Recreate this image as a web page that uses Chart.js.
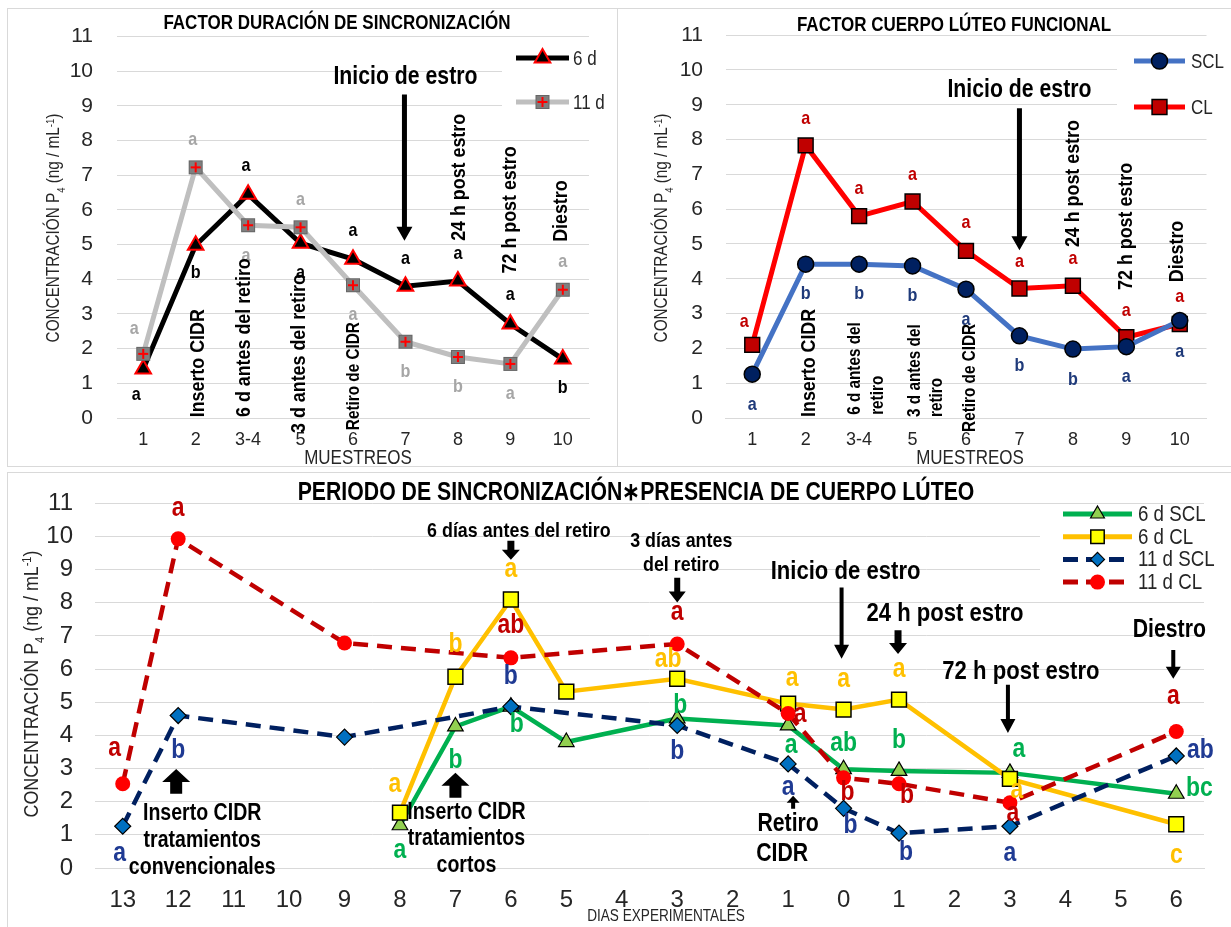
<!DOCTYPE html>
<html>
<head>
<meta charset="utf-8">
<script src="https://cdn.jsdelivr.net/npm/chart.js@4.4.1/dist/chart.umd.min.js"></script>
<style>
  body { margin: 0; background: #fff; }
  #hoja { position: relative; width: 1231px; height: 927px; overflow: hidden; }
  .marco { position: absolute; border: 1px solid #d9d9d9; }
  canvas { position: absolute; }
</style>
</head>
<body>
<div id="hoja">
  <div class="marco" style="left:7px;top:8px;width:609px;height:457px"></div>
  <div class="marco" style="left:617px;top:8px;width:640px;height:457px"></div>
  <div class="marco" style="left:7px;top:472px;width:1260px;height:480px"></div>
  <canvas id="g1" width="617" height="467" style="left:0;top:0"></canvas>
  <canvas id="g2" width="614" height="467" style="left:617px;top:0"></canvas>
  <canvas id="g3" width="1231" height="460" style="left:0;top:467px"></canvas>
</div>
<script>
// ---- datos graficas superiores ----
const muestreos = ['1', '2', '3-4', '5', '6', '7', '8', '9', '10'];

const p4_6d  = [1.41, 4.98, 6.45, 5.04, 4.58, 3.80, 3.95, 2.71, 1.70];
const p4_11d = [1.85, 7.23, 5.56, 5.50, 3.83, 2.20, 1.76, 1.56, 3.70];
const letras6d   = ['a', 'b', 'a', 'a', 'a', 'a', 'a', 'a', 'b'];
const letrasY6d  = [0.66, 4.20, 7.28, 4.18, 5.39, 4.60, 4.73, 3.54, 0.87];
const letras11d  = ['a', 'a', 'a', 'a', 'a', 'b', 'b', 'a', 'a'];
const letrasY11d = [2.56, 8.03, 4.67, 6.28, 2.99, 1.34, 0.90, 0.70, 4.50];

const p4_SCL = [1.26, 4.42, 4.42, 4.37, 3.70, 2.36, 1.98, 2.05, 2.80];
const p4_CL  = [2.10, 7.83, 5.80, 6.22, 4.80, 3.72, 3.80, 2.32, 2.70];
const letrasSCL  = ['a', 'b', 'b', 'b', 'a', 'b', 'b', 'a', 'a'];
const letrasYSCL = [0.37, 3.57, 3.57, 3.50, 2.82, 1.50, 1.10, 1.19, 1.90];
const letrasCL   = ['a', 'a', 'a', 'a', 'a', 'a', 'a', 'a', 'a'];
const letrasYCL  = [2.77, 8.60, 6.58, 7.00, 5.60, 4.50, 4.57, 3.08, 3.49];

// ---- datos grafica inferior ----
const dias = ['13', '12', '11', '10', '9', '8', '7', '6', '5', '4', '3', '2', '1', '0', '1', '2', '3', '4', '5', '6'];

const p4_6dSCL  = [null, null, null, null, null, 1.29, 4.27, 4.87, 3.80, null, 4.51, null, 4.30, 2.98, 2.93, null, 2.87, null, null, 2.24];
const p4_6dCL   = [null, null, null, null, null, 1.67, 5.77, 8.10, 5.32, null, 5.71, null, 4.96, 4.78, 5.08, null, 2.69, null, null, 1.32];
const p4_11dSCL = [1.26, 4.60, null, null, 3.95, null, null, 4.87, null, null, 4.30, null, 3.14, 1.80, 1.05, null, 1.26, null, null, 3.38];
const p4_11dCL  = [2.54, 9.93, null, null, 6.79, null, null, 6.34, null, null, 6.76, null, 4.66, 2.72, 2.54, null, 1.97, null, null, 4.12];

const l6dSCL   = [null, null, null, null, null, 'a', 'b', 'b', null, null, 'b', null, 'a', 'ab', 'b', null, 'a', null, null, 'bc'];
const lY6dSCL  = [null, null, null, null, null, 0.54, 3.23, 4.33, null, null, 4.90, null, 3.68, 3.74, 3.86, null, 3.56, null, null, 2.39];
const l6dCL    = [null, null, null, null, null, 'a', 'b', 'a', null, null, 'ab', null, 'a', 'a', 'a', null, 'a', null, null, 'c'];
const lY6dCL   = [null, null, null, null, null, 2.51, 6.73, 9.00, null, null, 6.28, null, 5.71, 5.68, 6.00, null, 2.33, null, null, 0.39];
const l11dSCL  = ['a', 'b', null, null, null, null, null, 'b', null, null, 'b', null, 'a', 'b', 'b', null, 'a', null, null, 'ab'];
const lY11dSCL = [0.45, 3.53, null, null, null, null, null, 5.77, null, null, 3.50, null, 2.42, 1.29, 0.48, null, 0.45, null, null, 3.53];
const l11dCL   = ['a', 'a', null, null, null, null, null, 'ab', null, null, 'a', null, 'a', 'b', 'b', null, 'a', null, null, 'a'];
const lY11dCL  = [3.60, 10.85, null, null, null, null, null, 7.30, null, null, 7.70, null, 4.63, 2.27, 2.18, null, 1.64, null, null, 5.17];

const FN = "'Liberation Sans Narrow', 'Arial Narrow', 'Liberation Sans', sans-serif";
const ANCHO = 0.85; // no hay fuente estrecha, se comprime a mano

// marcador cuadro gris con cruz roja
const marca11d = document.createElement('canvas');
marca11d.width = 16; marca11d.height = 16;
(function () {
  const c = marca11d.getContext('2d');
  c.fillStyle = '#7f7f7f'; c.fillRect(1, 1, 14, 14);
  c.strokeStyle = '#666'; c.lineWidth = 1; c.strokeRect(1.5, 1.5, 13, 13);
  c.strokeStyle = '#ff0000'; c.lineWidth = 2;
  c.beginPath(); c.moveTo(8, 3); c.lineTo(8, 13); c.moveTo(3, 8); c.lineTo(13, 8); c.stroke();
})();

function txt(ctx, t, x, y, font, align, rot) {
  ctx.save();
  ctx.translate(x, y);
  if (rot) ctx.rotate(-Math.PI / 2);
  ctx.scale(ANCHO, 1);
  ctx.font = font; ctx.textAlign = align; ctx.textBaseline = 'middle';
  ctx.fillText(t, 0, 0);
  ctx.restore();
}

function flecha(ctx, x, y1, y2, sw, hw, hh) {
  const d = Math.sign(y2 - y1), yb = y2 - d * hh;
  ctx.beginPath();
  ctx.moveTo(x - sw / 2, y1); ctx.lineTo(x + sw / 2, y1); ctx.lineTo(x + sw / 2, yb);
  ctx.lineTo(x + hw / 2, yb); ctx.lineTo(x, y2); ctx.lineTo(x - hw / 2, yb);
  ctx.lineTo(x - sw / 2, yb); ctx.closePath();
  ctx.fill();
}

function tituloY(ctx, x, y, size) {
  const partes = [['CONCENTRACIÓN P', 0, 1], ['4', 1, 0.62], [' (ng / mL', 0, 1], ['-1', -1, 0.62], [')', 0, 1]];
  ctx.save();
  ctx.translate(x, y); ctx.rotate(-Math.PI / 2); ctx.scale(ANCHO, 1);
  let total = 0;
  partes.forEach(p => { ctx.font = (p[2] * size) + 'px ' + FN; total += ctx.measureText(p[0]).width; });
  let cx = -total / 2;
  ctx.fillStyle = '#262626'; ctx.textBaseline = 'alphabetic'; ctx.textAlign = 'left';
  partes.forEach(p => {
    ctx.font = (p[2] * size) + 'px ' + FN;
    ctx.fillText(p[0], cx, size * 0.36 + p[1] * size * 0.3);
    cx += ctx.measureText(p[0]).width;
  });
  ctx.restore();
}

function leyenda(ctx, items, x1, x2, xt, y0, dy, size) {
  items.forEach((it, k) => {
    const y = y0 + k * dy;
    ctx.save();
    ctx.strokeStyle = it.color; ctx.lineWidth = it.w; ctx.setLineDash(it.dash || []);
    ctx.beginPath(); ctx.moveTo(x1, y); ctx.lineTo(x2, y); ctx.stroke();
    ctx.restore();
    ctx.save();
    ctx.fillStyle = it.bg; ctx.strokeStyle = it.border; ctx.lineWidth = it.bw;
    Chart.helpers.drawPoint(ctx, { pointStyle: it.style, radius: it.r, rotation: 0, borderWidth: it.bw }, (x1 + x2) / 2, y);
    ctx.restore();
    ctx.fillStyle = '#262626';
    txt(ctx, it.t, xt, y + 1, size + 'px ' + FN, 'left');
  });
}

// plugin para textos, flechas y letras
const extras = {
  id: 'extras',
  beforeDatasetsDraw(chart, args, o) {
    const ctx = chart.ctx;
    ctx.fillStyle = '#fff';
    ctx.fillRect(o.caja[0], o.caja[1], o.caja[2], o.caja[3]);
  },
  afterDatasetsDraw(chart, args, o) {
    const { ctx, scales: { x, y } } = chart;
    ctx.save();
    // letras de significancia
    o.letras.forEach(s => {
      ctx.fillStyle = s.color;
      s.t.forEach((t, i) => {
        if (t == null) return;
        txt(ctx, t, x.getPixelForValue(i) + (s.dx ? s.dx[i] : 0), y.getPixelForValue(s.v[i]), 'bold ' + o.tl + 'px ' + FN, 'center');
      });
    });
    // anotaciones
    ctx.fillStyle = '#000';
    o.notas.forEach(n => {
      txt(ctx, n.t, x.getPixelForValue(n.i) + (n.dx || 0), y.getPixelForValue(n.v), 'bold ' + n.s + 'px ' + FN, n.rot ? 'left' : 'center', n.rot);
    });
    o.flechas.forEach(f => {
      flecha(ctx, x.getPixelForValue(f.i) + (f.dx || 0), y.getPixelForValue(f.v1), y.getPixelForValue(f.v2), f.sw, f.hw, f.hh);
    });
    // titulos
    ctx.fillStyle = '#000';
    txt(ctx, o.titulo.t, o.titulo.x, o.titulo.y, 'bold ' + o.titulo.s + 'px ' + FN, 'center');
    ctx.fillStyle = '#262626';
    txt(ctx, o.ejeX.t, o.ejeX.x, o.ejeX.y, o.ejeX.s + 'px ' + FN, 'center');
    tituloY(ctx, o.ejeY.x, o.ejeY.y, o.ejeY.s);
    leyenda(ctx, o.ley.items, o.ley.x1, o.ley.x2, o.ley.xt, o.ley.y0, o.ley.dy, o.ley.s);
    ctx.restore();
  }
};

function opciones(c) {
  return {
    responsive: false,
    animation: false,
    layout: { padding: { left: 0, top: c.top, right: c.right, bottom: 0 } },
    plugins: { legend: { display: false }, tooltip: { enabled: false }, extras: c.extras },
    scales: {
      x: {
        offset: true,
        grid: { display: false, drawTicks: false },
        border: { color: '#d9d9d9' },
        ticks: { font: { family: FN, size: c.xs }, color: '#262626', padding: c.xp, maxRotation: 0, autoSkip: false },
        afterFit: s => { s.height = c.xh; }
      },
      y: {
        min: 0, max: 11,
        grid: { color: '#d9d9d9', drawTicks: false },
        border: { display: false },
        ticks: { stepSize: 1, font: { family: FN, size: c.ys }, color: '#262626', padding: c.yp },
        afterFit: s => { s.width = c.yw; }
      }
    }
  };
}

// ---- grafica 1: factor duracion ----
new Chart(document.getElementById('g1'), {
  type: 'line',
  data: {
    labels: muestreos,
    datasets: [
      { label: '11 d', data: p4_11d, borderColor: '#bfbfbf', borderWidth: 5, pointStyle: marca11d, pointRadius: 8 },
      { label: '6 d', data: p4_6d, borderColor: '#000', borderWidth: 5, pointStyle: 'triangle', pointRadius: 9,
        pointBackgroundColor: '#000', pointBorderColor: '#ff0000', pointBorderWidth: 2 }
    ]
  },
  options: opciones({
    top: 35, right: 28, xs: 18, xp: 11, xh: 49, ys: 21, yp: 24, yw: 117,
    extras: {
      caja: [502, 40, 115, 82],
      tl: 19,
      letras: [
        { t: letras6d, v: letrasY6d, color: '#000', dx: [-7, 0, -2, 0, 0, 0, 0, 0, 0] },
        { t: letras11d, v: letrasY11d, color: '#a6a6a6', dx: [-9, -3, -2, 0, 0, 0, 0, 0, 0] }
      ],
      notas: [
        { t: 'Inicio de estro', i: 5, dx: 0, v: 9.82, s: 25 },
        { t: 'Inserto CIDR', i: 1, dx: 3, v: 0.02, s: 21, rot: true },
        { t: '6 d antes del retiro', i: 2, dx: -4, v: 0.03, s: 21, rot: true },
        { t: '3 d antes del retiro', i: 3, dx: -1, v: -0.43, s: 21, rot: true },
        { t: 'Retiro de CIDR', i: 4, dx: 1, v: -0.35, s: 18, rot: true },
        { t: '24 h post estro', i: 6, dx: 1, v: 5.11, s: 21, rot: true },
        { t: '72 h post estro', i: 7, dx: 0, v: 4.17, s: 21, rot: true },
        { t: 'Diestro', i: 8, dx: -2, v: 5.08, s: 21, rot: true }
      ],
      flechas: [{ i: 5, dx: -1, v1: 9.33, v2: 5.11, sw: 5, hw: 16, hh: 14 }],
      titulo: { t: 'FACTOR DURACIÓN DE SINCRONIZACIÓN', x: 337, y: 23, s: 20 },
      ejeX: { t: 'MUESTREOS', x: 358, y: 458, s: 20 },
      ejeY: { x: 53, y: 228, s: 18 },
      ley: {
        x1: 516, x2: 569, xt: 573, y0: 58, dy: 44, s: 20,
        items: [
          { t: '6 d', color: '#000', w: 5, style: 'triangle', r: 9, bg: '#000', border: '#ff0000', bw: 2 },
          { t: '11 d', color: '#bfbfbf', w: 5, style: marca11d, r: 8, bg: '#7f7f7f', border: '#7f7f7f', bw: 0 }
        ]
      }
    }
  }),
  plugins: [extras]
});

// ---- grafica 2: factor cuerpo luteo ----
new Chart(document.getElementById('g2'), {
  type: 'line',
  data: {
    labels: muestreos,
    datasets: [
      { label: 'SCL', data: p4_SCL, borderColor: '#4472c4', borderWidth: 5, pointStyle: 'circle', pointRadius: 8,
        pointBackgroundColor: '#002060', pointBorderColor: '#000', pointBorderWidth: 1.5 },
      { label: 'CL', data: p4_CL, borderColor: '#ff0000', borderWidth: 5, pointStyle: 'rect', pointRadius: 10.5,
        pointBackgroundColor: '#c00000', pointBorderColor: '#000', pointBorderWidth: 1.5 }
    ]
  },
  options: opciones({
    top: 35, right: 24.5, xs: 18, xp: 11, xh: 49, ys: 21, yp: 22.5, yw: 108.5,
    extras: {
      caja: [500, 40, 120, 85],
      tl: 19,
      letras: [
        { t: letrasCL, v: letrasYCL, color: '#c00000', dx: [-8, 0, 0, 0, 0, 0, 0, 0, 0] },
        { t: letrasSCL, v: letrasYSCL, color: '#1f3a7a' }
      ],
      notas: [
        { t: 'Inicio de estro', i: 5, dx: 0, v: 9.42, s: 25 },
        { t: 'Inserto CIDR', i: 1, dx: 4, v: 0.03, s: 21, rot: true },
        { t: '6 d antes del', i: 2, dx: -4, v: 0.09, s: 18, rot: true },
        { t: 'retiro', i: 2, dx: 19, v: 0.09, s: 18, rot: true },
        { t: '3 d antes del', i: 3, dx: 2, v: 0.03, s: 18, rot: true },
        { t: 'retiro', i: 3, dx: 24, v: 0.03, s: 18, rot: true },
        { t: 'Retiro de CIDR', i: 4, dx: 4, v: -0.4, s: 18, rot: true },
        { t: '24 h post estro', i: 6, dx: 0, v: 4.91, s: 21, rot: true },
        { t: '72 h post estro', i: 7, dx: 0, v: 3.68, s: 21, rot: true },
        { t: 'Diestro', i: 8, dx: -3, v: 3.9, s: 21, rot: true }
      ],
      flechas: [{ i: 5, dx: 0, v1: 8.9, v2: 4.82, sw: 5, hw: 16, hh: 14 }],
      titulo: { t: 'FACTOR CUERPO LÚTEO FUNCIONAL', x: 337, y: 25, s: 20 },
      ejeX: { t: 'MUESTREOS', x: 353, y: 458, s: 20 },
      ejeY: { x: 44, y: 228, s: 18 },
      ley: {
        x1: 517, x2: 568, xt: 574, y0: 61, dy: 46, s: 20,
        items: [
          { t: 'SCL', color: '#4472c4', w: 5, style: 'circle', r: 8, bg: '#002060', border: '#000', bw: 1.5 },
          { t: 'CL', color: '#ff0000', w: 5, style: 'rect', r: 10.5, bg: '#c00000', border: '#000', bw: 1.5 }
        ]
      }
    }
  }),
  plugins: [extras]
});

// ---- grafica 3: periodo * cuerpo luteo ----
const cero20 = dias.map(() => 0);
function nudge(pares) { const a = cero20.slice(); pares.forEach(p => { a[p[0]] = p[1]; }); return a; }

new Chart(document.getElementById('g3'), {
  type: 'line',
  data: {
    labels: dias,
    datasets: [
      { label: '11 d CL', data: p4_11dCL, spanGaps: true, borderColor: '#c00000', borderWidth: 4.5, borderDash: [15, 9],
        pointStyle: 'circle', pointRadius: 7.5, pointBackgroundColor: '#ff0000', pointBorderColor: '#ff0000', pointBorderWidth: 0 },
      { label: '11 d SCL', data: p4_11dSCL, spanGaps: true, borderColor: '#002060', borderWidth: 4.5, borderDash: [15, 9],
        pointStyle: 'rectRot', pointRadius: 8, pointBackgroundColor: '#0070c0', pointBorderColor: '#000', pointBorderWidth: 1.2 },
      { label: '6 d CL', data: p4_6dCL, spanGaps: true, borderColor: '#ffc000', borderWidth: 4.5,
        pointStyle: 'rect', pointRadius: 10.5, pointBackgroundColor: '#ffff00', pointBorderColor: '#000', pointBorderWidth: 1.5 },
      { label: '6 d SCL', data: p4_6dSCL, spanGaps: true, borderColor: '#00b050', borderWidth: 4.5,
        pointStyle: 'triangle', pointRadius: 9, pointBackgroundColor: '#92d050', pointBorderColor: '#000', pointBorderWidth: 1.2 }
    ]
  },
  options: opciones({
    top: 33, right: 27, xs: 24, xp: 17.6, xh: 59, ys: 24, yp: 22, yw: 95,
    extras: {
      caja: [1040, 38, 191, 90],
      tl: 27,
      letras: [
        { t: l6dSCL, v: lY6dSCL, color: '#00b050', dx: nudge([[7, 6], [10, 3], [12, 3], [16, 9], [19, 23]]) },
        { t: l6dCL, v: lY6dCL, color: '#ffc000', dx: nudge([[5, -5], [10, -9], [12, 4], [16, 7]]) },
        { t: l11dSCL, v: lY11dSCL, color: '#1f3a93', dx: nudge([[0, -3], [13, 7], [14, 7], [19, 24]]) },
        { t: l11dCL, v: lY11dCL, color: '#c00000', dx: nudge([[0, -8], [12, 12], [13, 4], [14, 8], [16, 3], [19, -3]]) }
      ],
      notas: [
        { t: '6 días antes del retiro', i: 7, dx: 8, v: 10.16, s: 21 },
        { t: '3 días antes', i: 10, dx: 4, v: 9.87, s: 21 },
        { t: 'del retiro', i: 10, dx: 4, v: 9.15, s: 21 },
        { t: 'Inicio de estro', i: 13, dx: 2, v: 8.94, s: 26 },
        { t: '24 h post estro', i: 14, dx: 46, v: 7.68, s: 26 },
        { t: '72 h post estro', i: 16, dx: 11, v: 5.92, s: 26 },
        { t: 'Diestro', i: 19, dx: -7, v: 7.17, s: 25 },
        { t: 'Retiro', i: 12, dx: 0, v: 1.32, s: 25 },
        { t: 'CIDR', i: 12, dx: -6, v: 0.42, s: 25 },
        { t: 'Inserto CIDR', i: 1, dx: 24, v: 1.64, s: 23 },
        { t: 'tratamientos', i: 1, dx: 24, v: 0.84, s: 23 },
        { t: 'convencionales', i: 1, dx: 24, v: 0.0, s: 23 },
        { t: 'Inserto CIDR', i: 6, dx: 11, v: 1.67, s: 23 },
        { t: 'tratamientos', i: 6, dx: 11, v: 0.9, s: 23 },
        { t: 'cortos', i: 6, dx: 11, v: 0.06, s: 23 }
      ],
      flechas: [
        { i: 7, dx: 0, v1: 9.87, v2: 9.3, sw: 7, hw: 18, hh: 10 },
        { i: 10, dx: 0, v1: 8.76, v2: 8.01, sw: 6, hw: 17, hh: 11 },
        { i: 13, dx: -2, v1: 8.46, v2: 6.31, sw: 4, hw: 15, hh: 14 },
        { i: 14, dx: -1, v1: 7.17, v2: 6.46, sw: 7, hw: 18, hh: 11 },
        { i: 16, dx: -2, v1: 5.53, v2: 4.07, sw: 4, hw: 15, hh: 14 },
        { i: 19, dx: -3, v1: 6.58, v2: 5.71, sw: 4, hw: 15, hh: 12 },
        { i: 12, dx: 5, v1: 1.79, v2: 2.18, sw: 4, hw: 13, hh: 7 },
        { i: 1, dx: -2, v1: 2.24, v2: 2.99, sw: 12, hw: 28, hh: 13 },
        { i: 6, dx: 0, v1: 2.12, v2: 2.87, sw: 12, hw: 28, hh: 13 }
      ],
      titulo: { t: 'PERIODO DE SINCRONIZACIÓN∗PRESENCIA DE CUERPO LÚTEO', x: 636, y: 26, s: 25 },
      ejeX: { t: 'DIAS EXPERIMENTALES', x: 666, y: 450, s: 16 },
      ejeY: { x: 30, y: 217, s: 21 },
      ley: {
        x1: 1063, x2: 1132, xt: 1138, y0: 47, dy: 22.7, s: 22,
        items: [
          { t: '6 d SCL', color: '#00b050', w: 5, style: 'triangle', r: 8, bg: '#92d050', border: '#000', bw: 1.2 },
          { t: '6 d CL', color: '#ffc000', w: 5, style: 'rect', r: 9.5, bg: '#ffff00', border: '#000', bw: 1.5 },
          { t: '11 d SCL', color: '#002060', w: 5, style: 'rectRot', r: 7, bg: '#0070c0', border: '#000', bw: 1.2, dash: [15, 8] },
          { t: '11 d CL', color: '#c00000', w: 5, style: 'circle', r: 7.5, bg: '#ff0000', border: '#ff0000', bw: 0, dash: [15, 8] }
        ]
      }
    }
  }),
  plugins: [extras]
});
</script>
</body>
</html>
